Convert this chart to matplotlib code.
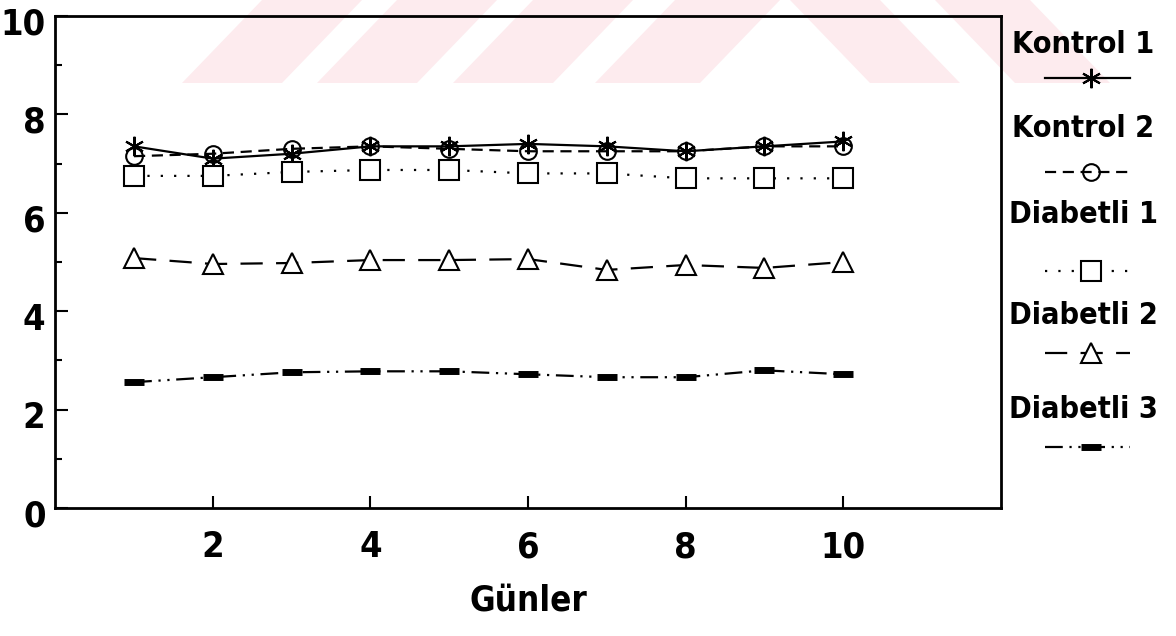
import numpy as np
import matplotlib.pyplot as plt
import matplotlib.transforms as mtrans
from matplotlib.lines import Line2D
from matplotlib.patches import Polygon
from matplotlib import font_manager as fm

gun = [1, 2, 3, 4, 5, 6, 7, 8, 9, 10]
kontrol1 = [7.35, 7.10, 7.20, 7.35, 7.35, 7.40, 7.35, 7.25, 7.35, 7.45]
kontrol2 = [7.15, 7.20, 7.30, 7.35, 7.30, 7.25, 7.25, 7.25, 7.35, 7.35]
diabetli1 = [6.75, 6.75, 6.83, 6.87, 6.87, 6.80, 6.80, 6.70, 6.70, 6.70]
diabetli2 = [5.08, 4.96, 4.98, 5.04, 5.04, 5.06, 4.84, 4.94, 4.88, 5.00]
diabetli3 = [2.56, 2.66, 2.76, 2.78, 2.78, 2.72, 2.66, 2.66, 2.80, 2.72]

labels = ["Kontrol 1", "Kontrol 2", "Diabetli 1", "Diabetli 2", "Diabetli 3"]
xticks = [2, 4, 6, 8, 10]
yticks = [0, 2, 4, 6, 8, 10]

# condensed bold face (DejaVu Sans Condensed Bold if there)
cond = None
for f in fm.fontManager.ttflist:
    if 'Condensed' in f.fname and 'Bold' in f.fname and 'Oblique' not in f.fname:
        cond = f.fname
        break
if cond:
    fp = fm.FontProperties(fname=cond)
else:
    fp = fm.FontProperties(family='DejaVu Sans', weight='bold')

W, H = 1176, 636
fig = plt.figure(figsize=(W / 100, H / 100), dpi=100)

# faint pink watermark stripes at the top (pixel coords -> figure fraction)
pink = '#fdebee'
bot = 1 - 83 / H
for xa, xb in [(182, 282), (317, 417), (453, 553), (595, 700)]:
    pts = [[xa / W, bot], [xb / W, bot], [(xb + 80) / W, 1.0], [(xa + 80) / W, 1.0]]
    fig.patches.append(Polygon(pts, closed=True, transform=fig.transFigure, fc=pink, ec='none', zorder=-5))
for xa, xb in [(790, 880), (935, 1030)]:
    pts = [[xa / W, 1.0], [xb / W, 1.0], [(xb + 80) / W, bot], [(xa + 80) / W, bot]]
    fig.patches.append(Polygon(pts, closed=True, transform=fig.transFigure, fc=pink, ec='none', zorder=-5))

ax = fig.add_axes([0.047, 0.201, 0.804, 0.774])
ax.patch.set_alpha(0)

styles = [
    dict(ls='-', marker=(6, 2, 0), ms=14, mew=1.5, mfc='none'),
    dict(ls=(0, (5, 3)), marker='o', ms=12, mew=1.5, mfc='none'),
    dict(ls=(0, (1, 5)), marker='s', ms=14, mew=1.5, mfc='white'),
    dict(ls=(0, (10, 6)), marker='^', ms=14, mew=1.5, mfc='white'),
    dict(ls=(0, (8, 3, 1, 3, 1, 3)), marker='_', ms=14, mew=5),
]
series = [kontrol1, kontrol2, diabetli1, diabetli2, diabetli3]

for s, st in zip(series, styles):
    ax.plot(gun, s, color='black', lw=1.6, mec='black', **st)

ax.set_xlim(0, 12)
ax.set_ylim(0, 10)
ax.set_xticks(xticks)
ax.set_yticks(yticks)
ax.set_yticks([1, 3, 5, 7, 9], minor=True)
ax.tick_params(direction='in', length=9, width=1.5, pad=7)
ax.tick_params(axis='x', pad=16)
ax.tick_params(axis='y', which='minor', direction='in', length=5, width=1.5)
shift = mtrans.ScaledTranslation(0, -5 / 100, fig.dpi_scale_trans)
for lab in ax.get_xticklabels() + ax.get_yticklabels():
    lab.set_fontproperties(fp)
    lab.set_fontsize(26)
for lab in ax.get_yticklabels():
    lab.set_transform(lab.get_transform() + shift)
ax.set_xlabel("Günler", fontproperties=fp, fontsize=25, labelpad=14)
for sp in ax.spines.values():
    sp.set_linewidth(2)

# legend: label above, line sample below
lax = fig.add_axes([0.855, 0.2, 0.145, 0.8])
lax.set_xlim(0, 1)
lax.set_ylim(0, 1)
lax.axis('off')
label_y = [0.913, 0.748, 0.579, 0.379, 0.196]
sample_y = [0.847, 0.662, 0.467, 0.306, 0.121]
for lab, st, ly, sy in zip(labels, styles, label_y, sample_y):
    lax.text(0.455, ly, lab, ha='center', va='center', fontproperties=fp, fontsize=22)
    lax.add_line(Line2D([0.23, 0.5, 0.73], [sy, sy, sy], color='black', lw=1.6, mec='black',
                        markevery=[1], **st))

fig.savefig('out.png', dpi=100)
